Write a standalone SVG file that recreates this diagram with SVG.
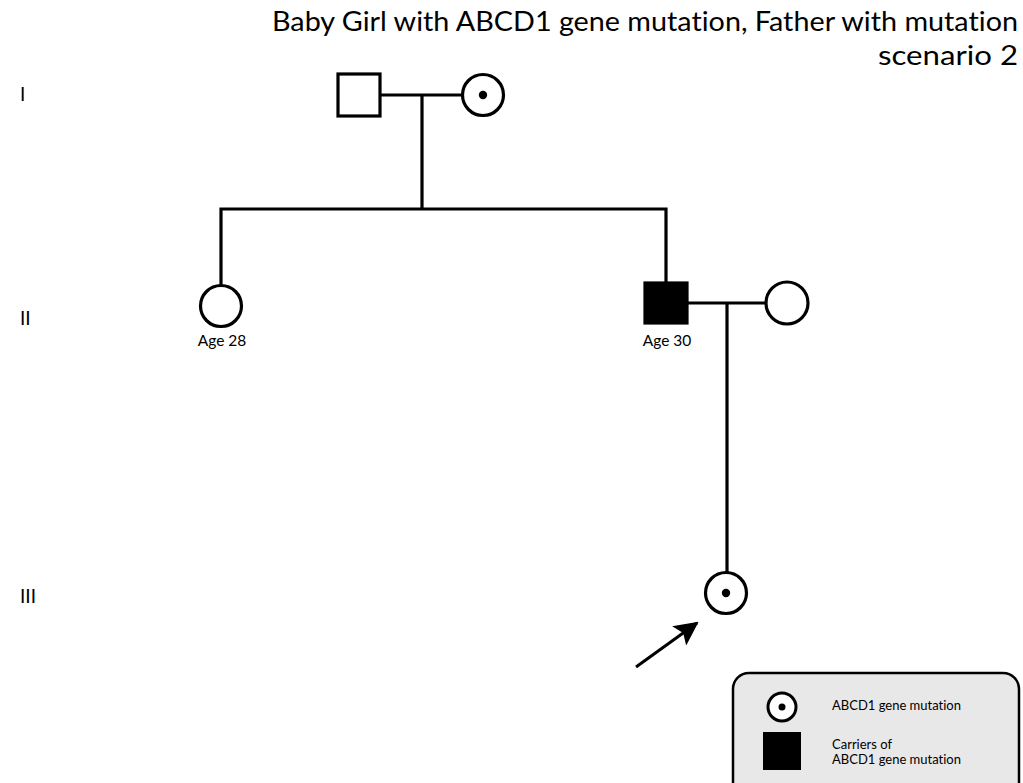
<svg xmlns="http://www.w3.org/2000/svg" width="1023" height="783" viewBox="0 0 1023 783">
<style>
text{font-variant-ligatures:none}
.sym{fill:#fff;stroke:#000;stroke-width:3.2}
.aff{fill:#000;stroke:#000;stroke-width:3.2}
.dot{fill:#000}
.ln{fill:none;stroke:#000;stroke-width:3.2}
.t{font-family:Lato,"Noto Sans",sans-serif;fill:#000}
.gen{font-family:Lato,"Noto Sans",sans-serif;font-size:19px;fill:#000}
.lab{font-family:Lato,"Noto Sans",sans-serif;font-size:15.5px;fill:#000;text-anchor:middle}
.leg{font-family:Lato,"Noto Sans",sans-serif;font-size:13px;fill:#000}
</style>
<defs>
<marker id="ah" viewBox="0 0 24 24" refX="22" refY="12" markerWidth="24" markerHeight="24" orient="auto" markerUnits="userSpaceOnUse">
<path d="M0,0 L24,12 L0,24 L5,12 z" fill="#000"/>
</marker>
</defs>
<rect width="1023" height="783" fill="#fff"/>
<g id="title" class="t" text-anchor="end" font-size="27">
<text x="1018" y="31" textLength="746" lengthAdjust="spacingAndGlyphs">Baby Girl with ABCD1 gene mutation, Father with mutation</text>
<text x="1018" y="65" textLength="140" lengthAdjust="spacingAndGlyphs">scenario 2</text>
</g>
<g id="generations">
<text class="gen" x="20" y="101">I</text>
<text class="gen" x="20" y="325">II</text>
<text class="gen" x="20" y="603">III</text>
</g>
<g id="connectors">
<line class="ln" x1="381" y1="95" x2="462" y2="95"/>
<line class="ln" x1="422" y1="95" x2="422" y2="209"/>
<polyline class="ln" points="221,285 221,209 666,209 666,283"/>
<line class="ln" x1="687" y1="303" x2="766" y2="303"/>
<line class="ln" x1="727" y1="303" x2="727" y2="572"/>
<line x1="636" y1="667" x2="697" y2="623" stroke="#000" stroke-width="3" marker-end="url(#ah)"/>
</g>
<g id="I-1"><rect class="sym" x="338" y="74" width="42" height="42"/></g>
<g id="I-2"><circle class="sym" cx="483" cy="95" r="20.5"/><circle class="dot" cx="483" cy="95" r="4.2"/></g>
<g id="II-1"><circle class="sym" cx="221" cy="306" r="20.5"/><text class="lab" x="222" y="346">Age 28</text></g>
<g id="II-2"><rect class="aff" x="645" y="283" width="42" height="40"/><text class="lab" x="667" y="346">Age 30</text></g>
<g id="II-3"><circle class="sym" cx="787" cy="303" r="21"/></g>
<g id="III-1"><circle class="sym" cx="726" cy="593" r="20.5"/><circle class="dot" cx="726" cy="593" r="4.2"/></g>
<g id="legend">
<rect x="733" y="673" width="286" height="130" rx="16" fill="#e8e8e8" stroke="#000" stroke-width="2.5"/>
<circle cx="782" cy="707" r="14" fill="#fff" stroke="#000" stroke-width="3"/>
<circle cx="782" cy="707" r="3.5" fill="#000"/>
<rect x="763" y="732" width="38" height="38" fill="#000"/>
<text class="leg" x="832" y="710">ABCD1 gene mutation</text>
<text class="leg" x="832" y="749">Carriers of</text>
<text class="leg" x="832" y="764">ABCD1 gene mutation</text>
</g>
</svg>
